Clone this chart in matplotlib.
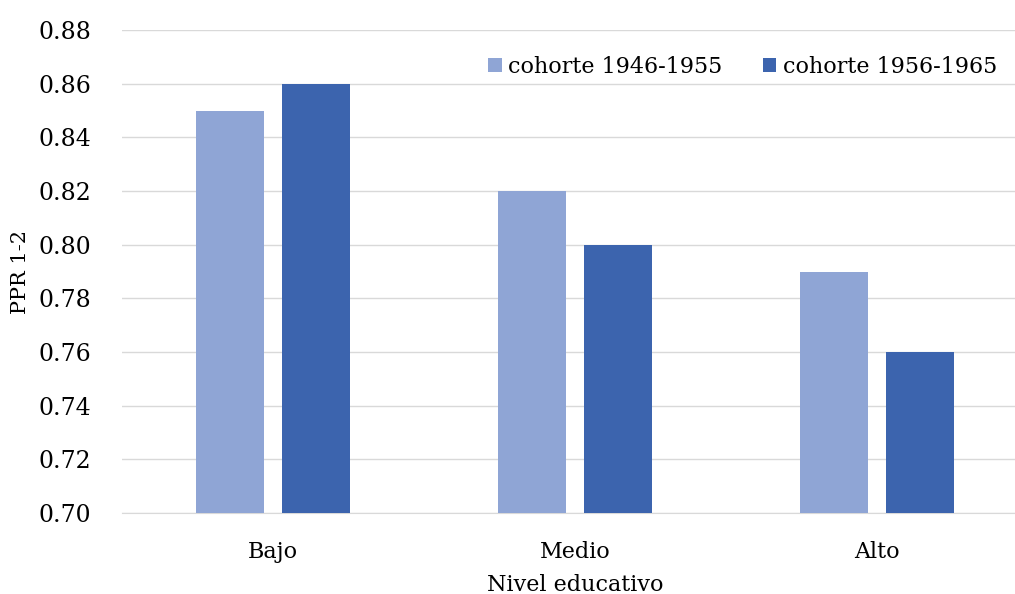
import numpy as np
import matplotlib.pyplot as plt

plt.rcParams['font.family'] = ['DejaVu Serif']

# datos
niveles = ['Bajo', 'Medio', 'Alto']
cohorte_1946 = [0.85, 0.82, 0.79]
cohorte_1956 = [0.86, 0.80, 0.76]
series_labels = ['cohorte 1946-1955', 'cohorte 1956-1965']
yticks = [0.70, 0.72, 0.74, 0.76, 0.78, 0.80, 0.82, 0.84, 0.86, 0.88]

fig = plt.figure(figsize=(10.15, 5.94), dpi=100)
ax = fig.add_axes([122 / 1015, 1 - 513 / 594, 906 / 1015, (513 - 30) / 594])

x = np.arange(len(niveles))
w = 0.225
off = 0.142
ax.bar(x - off, cohorte_1946, w, color='#8FA5D5', label=series_labels[0], zorder=3)
ax.bar(x + off, cohorte_1956, w, color='#3C64AE', label=series_labels[1], zorder=3)

ax.set_xlim(-0.5, 2.5)
ax.set_ylim(0.70, 0.88)
ax.set_yticks(yticks)
ax.set_yticklabels([f'{v:.2f}' for v in yticks], fontsize=17)
ax.set_xticks(x)
ax.set_xticklabels(niveles, fontsize=16)
ax.tick_params(axis='both', length=0)
ax.tick_params(axis='y', pad=22)
ax.tick_params(axis='x', pad=20)

ax.grid(axis='y', color='#D9D9D9', linewidth=1, zorder=0)
for s in ['top', 'right', 'left']:
    ax.spines[s].set_visible(False)
ax.spines['bottom'].set_color('#D9D9D9')

ax.set_xlabel('Nivel educativo', fontsize=16, labelpad=8)
ax.set_ylabel('PPR 1-2', fontsize=15, labelpad=6)

ax.legend(loc='upper right', bbox_to_anchor=(1017 / 1015, 0.94), bbox_transform=fig.transFigure,
          ncol=2, frameon=False, fontsize=16, handlelength=0.6, handleheight=0.6,
          handletextpad=0.3, columnspacing=1.8)

plt.savefig('out.png', dpi=100)
